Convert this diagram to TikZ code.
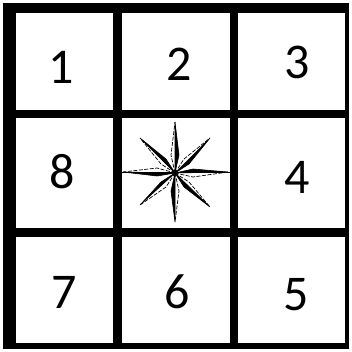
\documentclass[tikz,border=0pt]{standalone}
\usepackage{fontspec}
\setmainfont{Carlito}
\begin{document}
\begin{tikzpicture}[x=1pt,y=-1pt,
  gridbar/.style={fill=black,draw=none},
  num/.style={font=\fontsize{50}{50}\selectfont,text=black,inner sep=0pt,anchor=center},
  rayfill/.style={fill=black,draw=black,line width=0.6pt,line join=miter},
  rayline/.style={draw=black,line width=0.7pt,dashed,dash pattern=on 4pt off 1.5pt}]
\useasboundingbox (0,0) rectangle (352,351);
\fill[white] (0,0) rectangle (352,351);
% outer border
\fill[gridbar] (3,3) rectangle (349,13);
\fill[gridbar] (3,343) rectangle (349,349);
\fill[gridbar] (3,3) rectangle (16,349);
\fill[gridbar] (345,3) rectangle (349,349);
% inner lines
\fill[gridbar] (113,3) rectangle (122,349);
\fill[gridbar] (230,3) rectangle (238,349);
\fill[gridbar] (3,110) rectangle (349,118);
\fill[gridbar] (3,228) rectangle (349,237);
% numbers
\node[num] (n1) at (61,67) {1};
\node[num] (n2) at (179,64) {2};
\node[num] (n3) at (297,62) {3};
\node[num] (n8) at (62,172) {8};
\node[num] (n4) at (297,177) {4};
\node[num] (n7) at (64,292) {7};
\node[num] (n6) at (177,292) {6};
\node[num] (n5) at (296,295) {5};
% star (compass rose)
\coordinate (c) at (175,173);
\draw[black,line width=0.8pt] (122,172) -- (230,172);
% main rays: up, down, left, right
\fill[rayfill] (c) -- (179,155) -- (175,122) -- cycle;
\draw[rayline] (c) -- (171,155) -- (175,122);
\fill[rayfill] (c) -- (171,191) -- (175,222) -- cycle;
\draw[rayline] (c) -- (179,191) -- (175,222);
\fill[rayfill] (c) -- (157,176) -- (123,172) -- cycle;
\draw[rayline] (c) -- (157,168) -- (123,172);
\fill[rayfill] (c) -- (193,169) -- (228,172) -- cycle;
\draw[rayline] (c) -- (193,177) -- (228,172);
% diagonal rays
\fill[rayfill] (c) -- (166,159) -- (140,138) -- cycle;
\draw[rayline] (c) -- (161,164) -- (140,138);
\fill[rayfill] (c) -- (189,164) -- (210,138) -- cycle;
\draw[rayline] (c) -- (184,159) -- (210,138);
\fill[rayfill] (c) -- (161,182) -- (140,205) -- cycle;
\draw[rayline] (c) -- (166,187) -- (140,205);
\fill[rayfill] (c) -- (184,187) -- (210,207) -- cycle;
\draw[rayline] (c) -- (189,182) -- (210,207);
\end{tikzpicture}
\end{document}
